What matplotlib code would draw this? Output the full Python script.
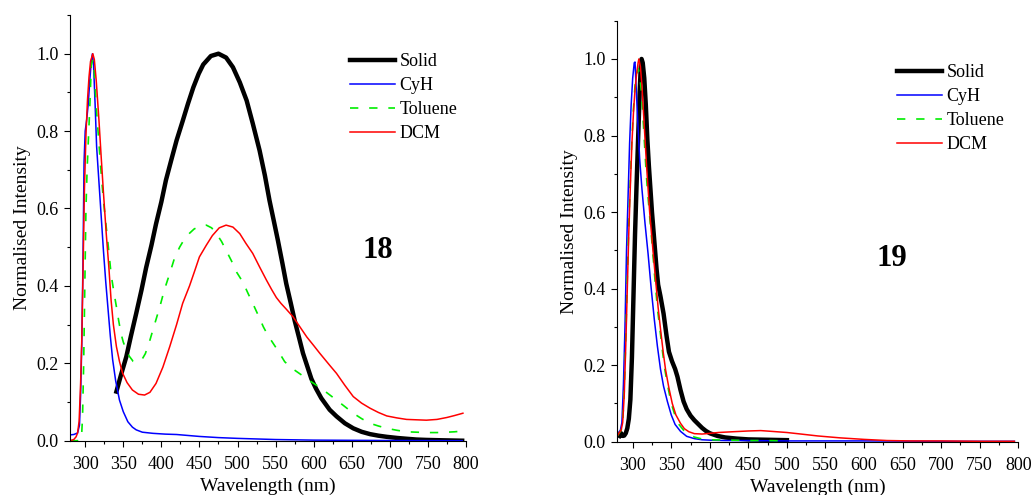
import matplotlib
matplotlib.use('Agg')
import matplotlib.pyplot as plt
from matplotlib.ticker import MultipleLocator

# ---- compound 18 ----
solid18_x = [341, 347, 354, 360, 367, 374, 380, 387, 393, 400, 406, 413, 420, 428, 435, 442, 449, 455, 465, 475,
             485, 494, 503, 512, 520, 529, 536, 542, 548, 553, 559, 564, 570, 575, 581, 586, 592, 597, 603, 610,
             621, 630, 641, 652, 663, 674, 685, 696, 710, 722, 735, 748, 770, 795]
solid18_y = [0.127, 0.17, 0.217, 0.27, 0.329, 0.39, 0.447, 0.505, 0.56, 0.617, 0.673, 0.725, 0.776, 0.826, 0.871,
             0.913, 0.948, 0.972, 0.994, 1.0, 0.99, 0.965, 0.926, 0.879, 0.82, 0.75, 0.685, 0.621, 0.565, 0.518,
             0.458, 0.406, 0.355, 0.311, 0.265, 0.226, 0.19, 0.16, 0.135, 0.11, 0.08, 0.063, 0.045, 0.032, 0.023,
             0.017, 0.013, 0.010, 0.007, 0.005, 0.003, 0.002, 0.001, 0.0]

cyh18_x = [280, 285, 290, 292.5, 294, 295.5, 297, 298.5, 300, 302, 304, 306, 308, 309.5, 311, 313, 315, 318, 321,
           324, 327, 330, 333, 336, 340, 345, 350, 356, 362, 367, 375, 389, 405, 420, 450, 475, 500, 550, 600,
           650, 700, 795]
cyh18_y = [0.015, 0.016, 0.02, 0.04, 0.12, 0.25, 0.45, 0.72, 0.80, 0.83, 0.87, 0.93, 0.98, 1.0, 0.97, 0.87, 0.76,
           0.67, 0.58, 0.49, 0.41, 0.34, 0.27, 0.21, 0.155, 0.105, 0.075, 0.049, 0.035, 0.028, 0.022, 0.019,
           0.017, 0.016, 0.011, 0.008, 0.006, 0.003, 0.0015, 0.001, 0.0005, 0.0]

tol18_x = [280, 290, 295, 296.5, 298, 299.5, 301, 302.5, 304, 306, 308, 310, 312, 314.5, 318, 321, 324, 327.6, 331,
           334, 338, 341, 344, 347, 350, 354, 358, 363, 368, 374, 379, 385, 391, 398, 404, 411, 417, 424, 430,
           437, 443, 448, 453, 459, 466, 472, 479, 485, 492, 499, 507, 514, 520, 527, 534, 540, 547, 554, 562,
           573, 584, 597, 610, 620, 630, 641, 652, 663, 674, 685, 696, 709, 722, 735, 748, 762, 775, 785, 796]
tol18_y = [0.0, 0.0, 0.003, 0.06, 0.2, 0.4, 0.6, 0.7, 0.77, 0.86, 0.97, 0.985, 0.95, 0.862, 0.77, 0.69, 0.62, 0.552,
           0.49, 0.43, 0.38, 0.346, 0.31, 0.277, 0.255, 0.234, 0.218, 0.205, 0.203, 0.208, 0.225, 0.26, 0.3,
           0.346, 0.39, 0.432, 0.47, 0.50, 0.52, 0.536, 0.547, 0.552, 0.556, 0.557, 0.55, 0.536, 0.515, 0.492,
           0.465, 0.435, 0.41, 0.38, 0.355, 0.325, 0.294, 0.272, 0.251, 0.23, 0.204, 0.185, 0.17, 0.152, 0.135,
           0.12, 0.105, 0.088, 0.071, 0.057, 0.045, 0.038, 0.032, 0.027, 0.023, 0.022, 0.021, 0.021, 0.022,
           0.023, 0.025]

dcm18_x = [280, 285, 288, 290, 292, 294, 295.5, 297, 299, 301, 303, 305, 307, 310, 312, 314.5, 318, 321, 324,
           327.6, 331, 334, 337, 341, 345, 349, 355, 362, 370, 378, 385, 393, 402, 411, 420, 428, 437, 444, 450,
           459, 467, 476, 485, 494, 503, 511, 520, 529, 538, 545, 551, 557, 564, 573, 582, 591, 600, 608, 621,
           630, 641, 652, 663, 674, 685, 696, 709, 722, 735, 748, 762, 775, 785, 796]
dcm18_y = [0.0, 0.003, 0.01, 0.02, 0.05, 0.15, 0.26, 0.42, 0.65, 0.79, 0.88, 0.94, 0.98, 1.0, 0.985, 0.93, 0.83,
           0.733, 0.64, 0.536, 0.45, 0.363, 0.3, 0.243, 0.205, 0.175, 0.15, 0.131, 0.12, 0.118, 0.125, 0.148,
           0.19, 0.243, 0.3, 0.355, 0.40, 0.44, 0.475, 0.505, 0.53, 0.55, 0.557, 0.552, 0.535, 0.51, 0.484,
           0.449, 0.415, 0.39, 0.37, 0.355, 0.34, 0.32, 0.294, 0.268, 0.246, 0.226, 0.195, 0.174, 0.143, 0.114,
           0.097, 0.084, 0.073, 0.064, 0.059, 0.055, 0.054, 0.053, 0.055, 0.06, 0.065, 0.071]

# ---- compound 19 ----
solid19_x = [283, 285, 287, 289, 291, 293, 295, 297, 299, 301, 303, 305, 307, 309, 310.5, 311.5, 313, 315, 317,
             319, 321, 323, 325, 327, 329, 331, 333, 336, 340, 344, 347, 351, 355, 358, 362, 366, 370, 375, 380,
             385, 390, 395, 400, 410, 420, 435, 450, 475, 500]
solid19_y = [0.015, 0.022, 0.015, 0.016, 0.022, 0.035, 0.06, 0.11, 0.22, 0.38, 0.54, 0.67, 0.79, 0.91, 0.98, 1.0,
             0.99, 0.95, 0.88, 0.79, 0.72, 0.66, 0.6, 0.55, 0.5, 0.45, 0.41, 0.38, 0.335, 0.275, 0.235, 0.21,
             0.19, 0.17, 0.135, 0.105, 0.085, 0.068, 0.056, 0.046, 0.036, 0.028, 0.022, 0.015, 0.011, 0.008,
             0.006, 0.005, 0.004]

cyh19_x = [280, 284, 286, 288, 290, 292, 294, 296, 298, 300, 302, 303, 306, 309, 312, 316, 320, 324, 328, 332,
           336, 340, 345, 350, 355, 362, 370, 380, 390, 400, 420, 450, 500, 550, 600, 700, 795]
cyh19_y = [0.02, 0.03, 0.05, 0.15, 0.3, 0.5, 0.64, 0.78, 0.88, 0.95, 0.99, 0.992, 0.86, 0.74, 0.66, 0.57, 0.49,
           0.4, 0.32, 0.25, 0.19, 0.145, 0.105, 0.07, 0.045, 0.027, 0.014, 0.008, 0.005, 0.004, 0.003, 0.003,
           0.002, 0.002, 0.002, 0.001, 0.001]

tol19_x = [280, 285, 287, 289, 291, 293, 295, 297, 299, 301, 303, 305, 307, 309, 311, 313, 315, 317, 319, 322,
           325, 329, 332, 335.5, 339, 342, 346, 350, 355, 360, 366, 372, 380, 390, 400, 425, 450, 475, 500]
tol19_y = [0.015, 0.03, 0.05, 0.13, 0.27, 0.43, 0.57, 0.69, 0.79, 0.87, 0.93, 0.96, 0.975, 0.96, 0.92, 0.86,
           0.79, 0.72, 0.66, 0.59, 0.52, 0.42, 0.35, 0.29, 0.23, 0.185, 0.14, 0.1, 0.068, 0.045, 0.03, 0.02,
           0.012, 0.007, 0.005, 0.004, 0.003, 0.003, 0.002]

dcm19_x = [280, 283, 285, 287, 289, 291, 293, 295, 297, 299, 301, 303, 305, 307, 308, 310, 312, 314, 316, 318,
           320, 322, 325.4, 329.7, 333, 336.2, 339.5, 342.7, 347, 351.3, 356, 362, 367, 372.8, 380, 390, 401,
           411, 430, 450, 466, 480, 500, 518, 540, 569, 600, 630, 660, 700, 750, 795]
dcm19_y = [0.015, 0.025, 0.03, 0.05, 0.12, 0.25, 0.4, 0.55, 0.67, 0.78, 0.86, 0.92, 0.96, 0.99, 1.0, 0.98, 0.93,
           0.86, 0.79, 0.72, 0.66, 0.6, 0.52, 0.423, 0.35, 0.292, 0.235, 0.187, 0.14, 0.10, 0.07, 0.048, 0.034,
           0.026, 0.021, 0.02, 0.022, 0.024, 0.026, 0.028, 0.029, 0.027, 0.024, 0.02, 0.015, 0.01, 0.006, 0.003,
           0.002, 0.002, 0.001, 0.001]

labels = ['Solid', 'CyH', 'Toluene', 'DCM']
xticks = [300, 350, 400, 450, 500, 550, 600, 650, 700, 750, 800]

plt.rcParams['font.family'] = ['Liberation Serif', 'DejaVu Serif']
plt.rcParams['font.size'] = 13

fig = plt.figure(figsize=(10.35, 4.95), dpi=100)
ax1 = fig.add_axes([0.0676, 0.1097, 0.3826, 0.860])
ax2 = fig.add_axes([0.5964, 0.1077, 0.3874, 0.8505])


def draw(ax, data, tag, tag_xy, leg_xy):
    (sx, sy), (cx, cy), (tx, ty), (dx, dy) = data
    ax.plot(sx, sy, color='black', lw=3.2, label=labels[0])
    ax.plot(cx, cy, color='#0000ff', lw=1.1, label=labels[1])
    ax.plot(tx, ty, color='#00ee00', lw=1.2, dashes=(5, 6.5), label=labels[2])
    ax.plot(dx, dy, color='#ff0000', lw=1.1, label=labels[3])
    ax.set_xlim(280, 800)
    ax.set_ylim(0, 1.1)
    ax.set_xticks(xticks)
    ax.xaxis.set_minor_locator(MultipleLocator(25))
    ax.set_yticks([0.0, 0.2, 0.4, 0.6, 0.8, 1.0])
    ax.yaxis.set_minor_locator(MultipleLocator(0.1))
    ax.set_yticklabels(['0.0', '0.2', '0.4', '0.6', '0.8', '1.0'])
    ax.spines['top'].set_visible(False)
    ax.spines['right'].set_visible(False)
    ax.tick_params(which='major', direction='out', length=4.3, width=0.8, labelsize=13)
    ax.tick_params(which='minor', direction='out', length=2.5, width=0.8)
    ax.tick_params(axis='x', which='major', pad=7)
    ax.tick_params(axis='y', which='major', pad=4)
    ax.set_xlabel('Wavelength (nm)', fontsize=14, labelpad=3)
    ax.set_ylabel('Normalised Intensity', fontsize=14, labelpad=4)
    ax.text(tag_xy[0], tag_xy[1], tag, fontsize=22, fontweight='bold', ha='center', va='center')
    ax.legend(loc='upper left', bbox_to_anchor=leg_xy, frameon=False, fontsize=13,
              borderpad=0, borderaxespad=0, handlelength=2.5, handletextpad=0.25, labelspacing=0.38)


draw(ax1, [(solid18_x, solid18_y), (cyh18_x, cyh18_y), (tol18_x, tol18_y), (dcm18_x, dcm18_y)],
     '18', (684, 0.492), (0.707, 0.910))
draw(ax2, [(solid19_x, solid19_y), (cyh19_x, cyh19_y), (tol19_x, tol19_y), (dcm19_x, dcm19_y)],
     '19', (636, 0.478), (0.6975, 0.896))

fig.savefig('out.png', dpi=100)
